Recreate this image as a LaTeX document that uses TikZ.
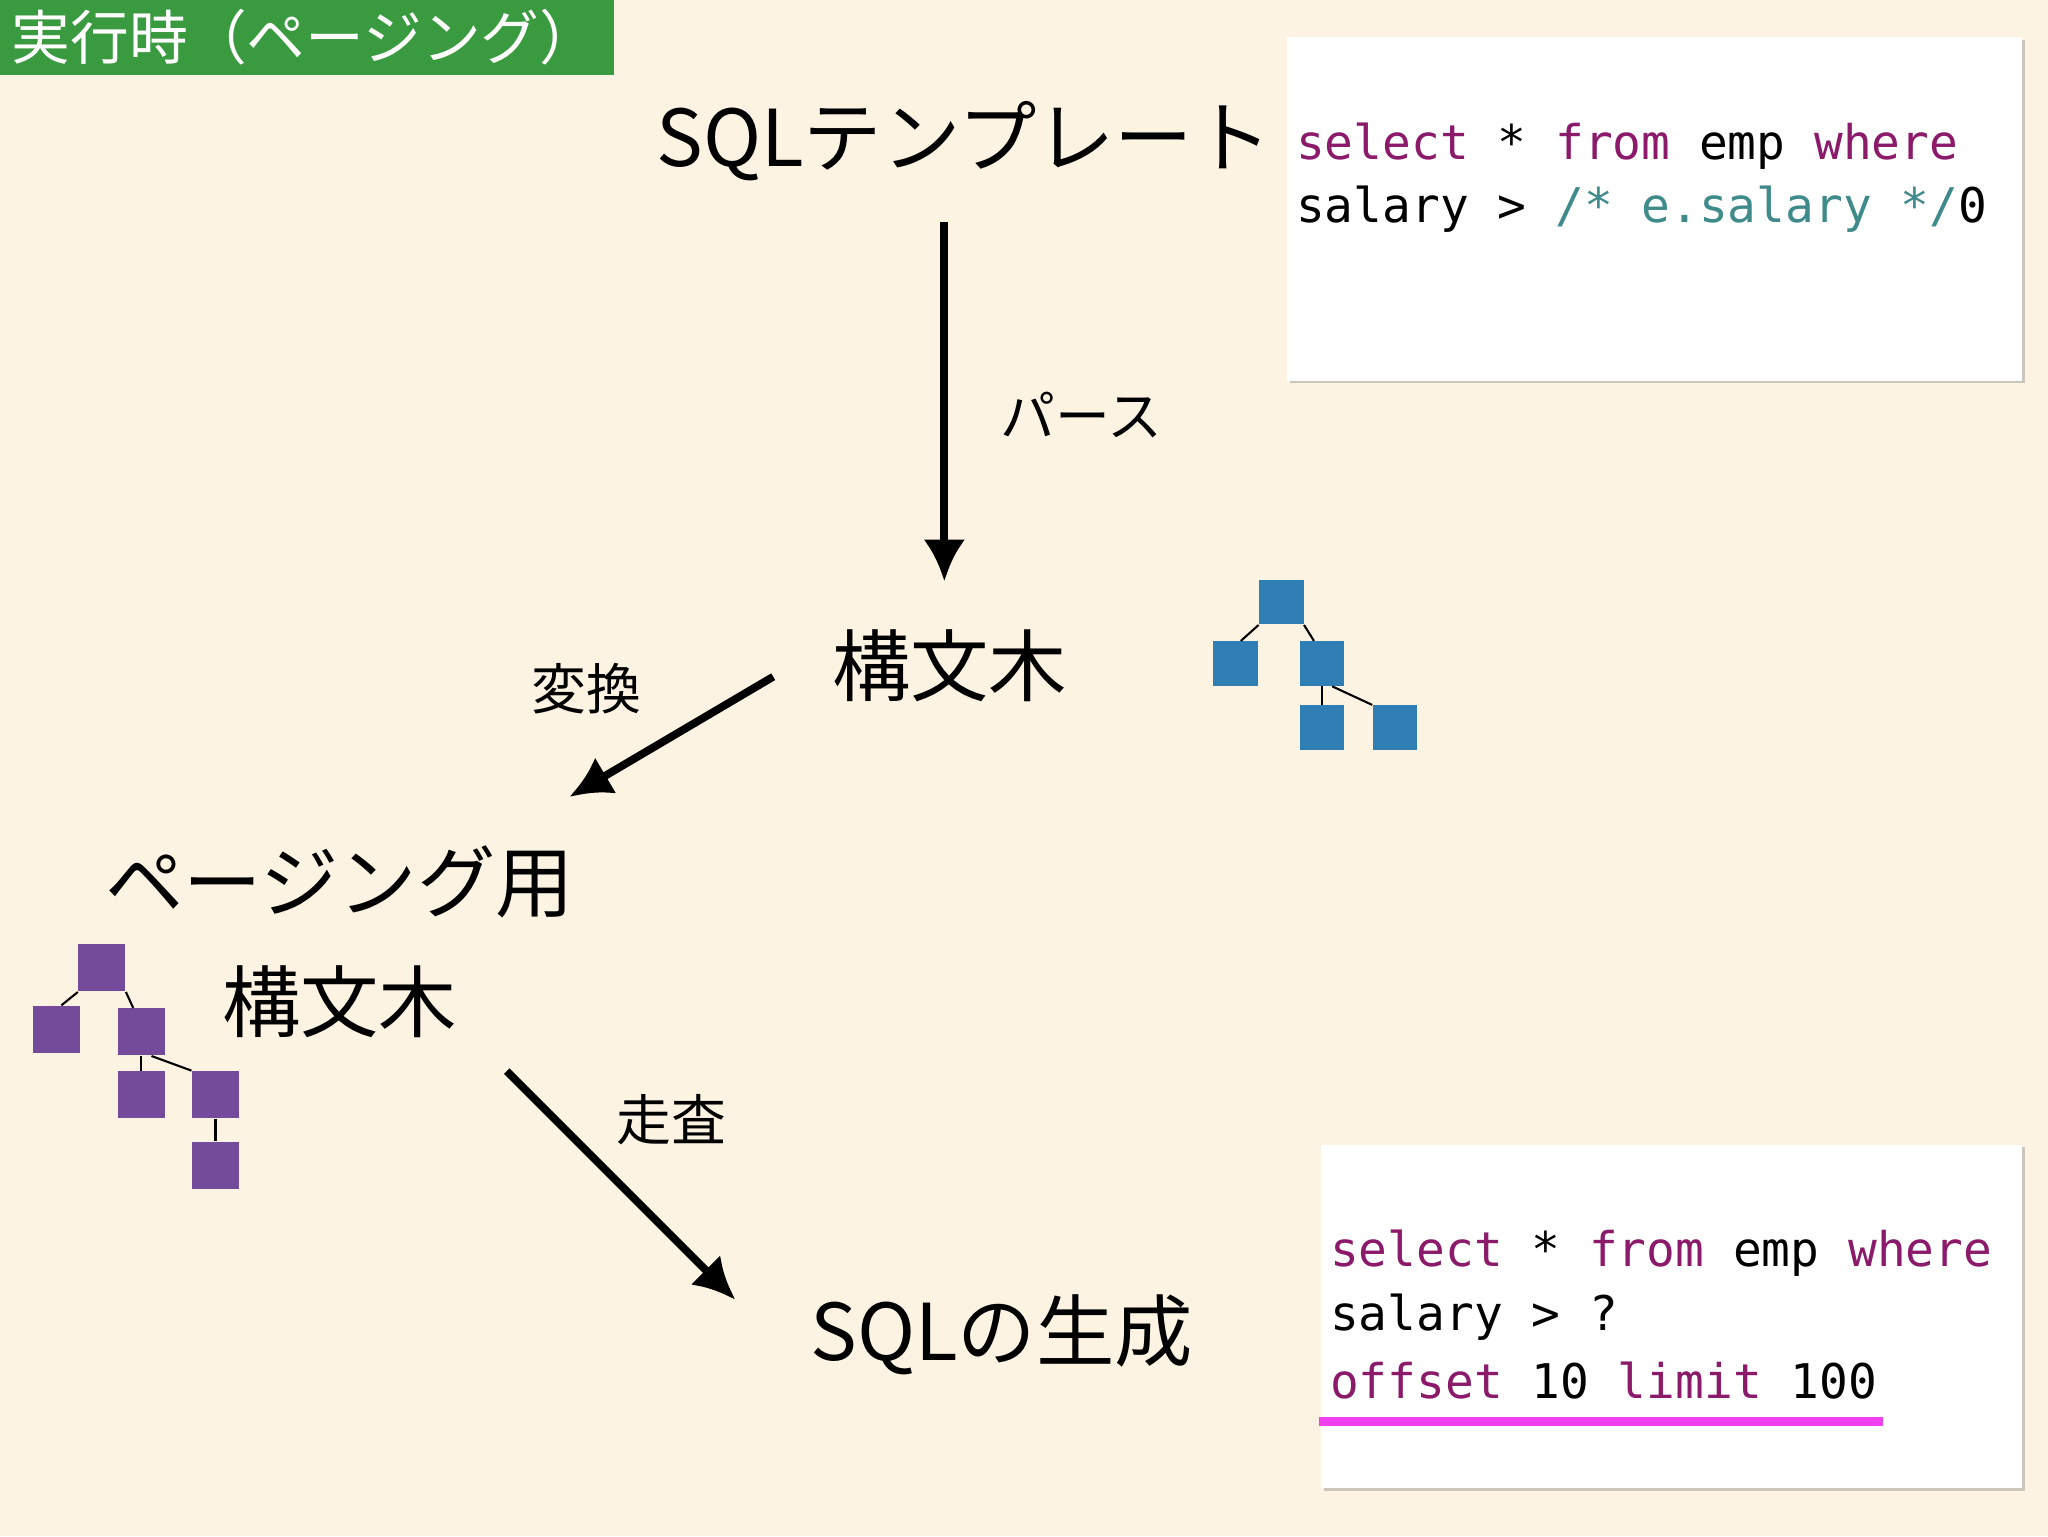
\documentclass[tikz,border=0pt]{standalone}
\usepackage{fontspec}
\setmainfont{Noto Sans CJK JP}
\setmonofont{DejaVu Sans Mono}
\usetikzlibrary{shadows,arrows.meta}
\definecolor{bg}{HTML}{FDF3E3}
\definecolor{grn}{HTML}{3A9A3F}
\definecolor{kw}{HTML}{8B1A6B}
\definecolor{cm}{HTML}{3F8A8A}
\definecolor{blu}{HTML}{2F7FB5}
\definecolor{pur}{HTML}{744A9B}
\definecolor{mag}{HTML}{F040F0}
\tikzset{
 big/.style={font=\fontsize{30pt}{36pt}\selectfont},
 mid/.style={font=\fontsize{21pt}{26pt}\selectfont},
 code/.style={font=\ttfamily\fontsize{18.3pt}{24.5pt}\selectfont,anchor=west,inner sep=0},
 box/.style={fill=white,draw=none,drop shadow={shadow xshift=1pt,shadow yshift=-1pt,opacity=0.4}},
 arr/.style={line width=3pt,-{Latex[length=16pt,width=16pt]}},
 bsq/.style={fill=blu,minimum size=17pt,inner sep=0},
 psq/.style={fill=pur,minimum size=18pt,inner sep=0},
 tl/.style={line width=0.8pt}
}
\begin{document}
\begin{tikzpicture}[x=0.5pt,y=-0.5pt]
\fill[bg] (0,0) rectangle (1568,1176);
\fill[grn] (0,0) rectangle (470,57);
\node[white,font=\fontsize{22.5pt}{26pt}\selectfont,anchor=west] (title) at (2,28) {実行時（ページング）};
\node[big] (tmpl) at (738,108) {SQLテンプレート};
\node[box,minimum width=281.5pt,minimum height=131.5pt,anchor=north west,inner sep=0] (box1) at (985,28) {};
\node[code] (c1) at (992,112) {\textcolor{kw}{select} * \textcolor{kw}{from} emp \textcolor{kw}{where}};
\node[code] (c2) at (992,160) {salary > \textcolor{cm}{/* e.salary */}0};
\coordinate (a1s) at (723,170); \coordinate (a1e) at (723,445);
\draw[arr] (a1s) -- (a1e);
\node[mid] (parse) at (828,318) {パース};
\node[big] (ast) at (727,510) {構文木};
\node[bsq] (b1) at (981,461) {}; \node[bsq] (b2) at (946,508) {}; \node[bsq] (b3) at (1012,508) {};
\node[bsq] (b4) at (1012,557) {}; \node[bsq] (b5) at (1068,557) {};
\draw[tl] (b1.south west) -- ([xshift=2pt]b2.north); \draw[tl] (b1.south east) -- ([xshift=-3pt]b3.north);
\draw[tl] (b3.south) -- (b4.north); \draw[tl] ([xshift=4pt]b3.south) -- (b5.north west);
\coordinate (a2s) at (592,518); \coordinate (a2e) at (436,610);
\draw[arr] (a2s) -- (a2e);
\node[mid] (conv) at (449,527) {変換};
\node[big] (pg) at (260,675) {ページング用};
\node[big] (ast2) at (260,767) {構文木};
\node[psq] (p1) at (78,741) {}; \node[psq] (p2) at (43,788) {}; \node[psq] (p3) at (108,790) {};
\node[psq] (p4) at (108,838) {}; \node[psq] (p5) at (165,838) {}; \node[psq] (p6) at (165,892) {};
\draw[tl] (p1.south west) -- ([xshift=2pt]p2.north); \draw[tl] (p1.south east) -- ([xshift=-3pt]p3.north);
\draw[tl] (p3.south) -- (p4.north); \draw[tl] ([xshift=4pt]p3.south) -- (p5.north west);
\draw[tl] (p5.south) -- (p6.north);
\coordinate (a3s) at (388,820); \coordinate (a3e) at (563,995);
\draw[arr] (a3s) -- (a3e);
\node[mid] (scan) at (514,857) {走査};
\node[big] (gen) at (767,1022) {SQLの生成};
\node[box,minimum width=268.5pt,minimum height=131.5pt,anchor=north west,inner sep=0] (box2) at (1011,876) {};
\node[code] (d1) at (1018,959) {\textcolor{kw}{select} * \textcolor{kw}{from} emp \textcolor{kw}{where}};
\node[code] (d2) at (1018,1008) {salary > ?};
\node[code] (d3) at (1018,1057) {\textcolor{kw}{offset} 10 \textcolor{kw}{limit} 100};
\coordinate (u1) at (1010,1088); \coordinate (u2) at (1442,1088);
\draw[mag,line width=3.5pt] (u1) -- (u2);
\end{tikzpicture}
\end{document}
